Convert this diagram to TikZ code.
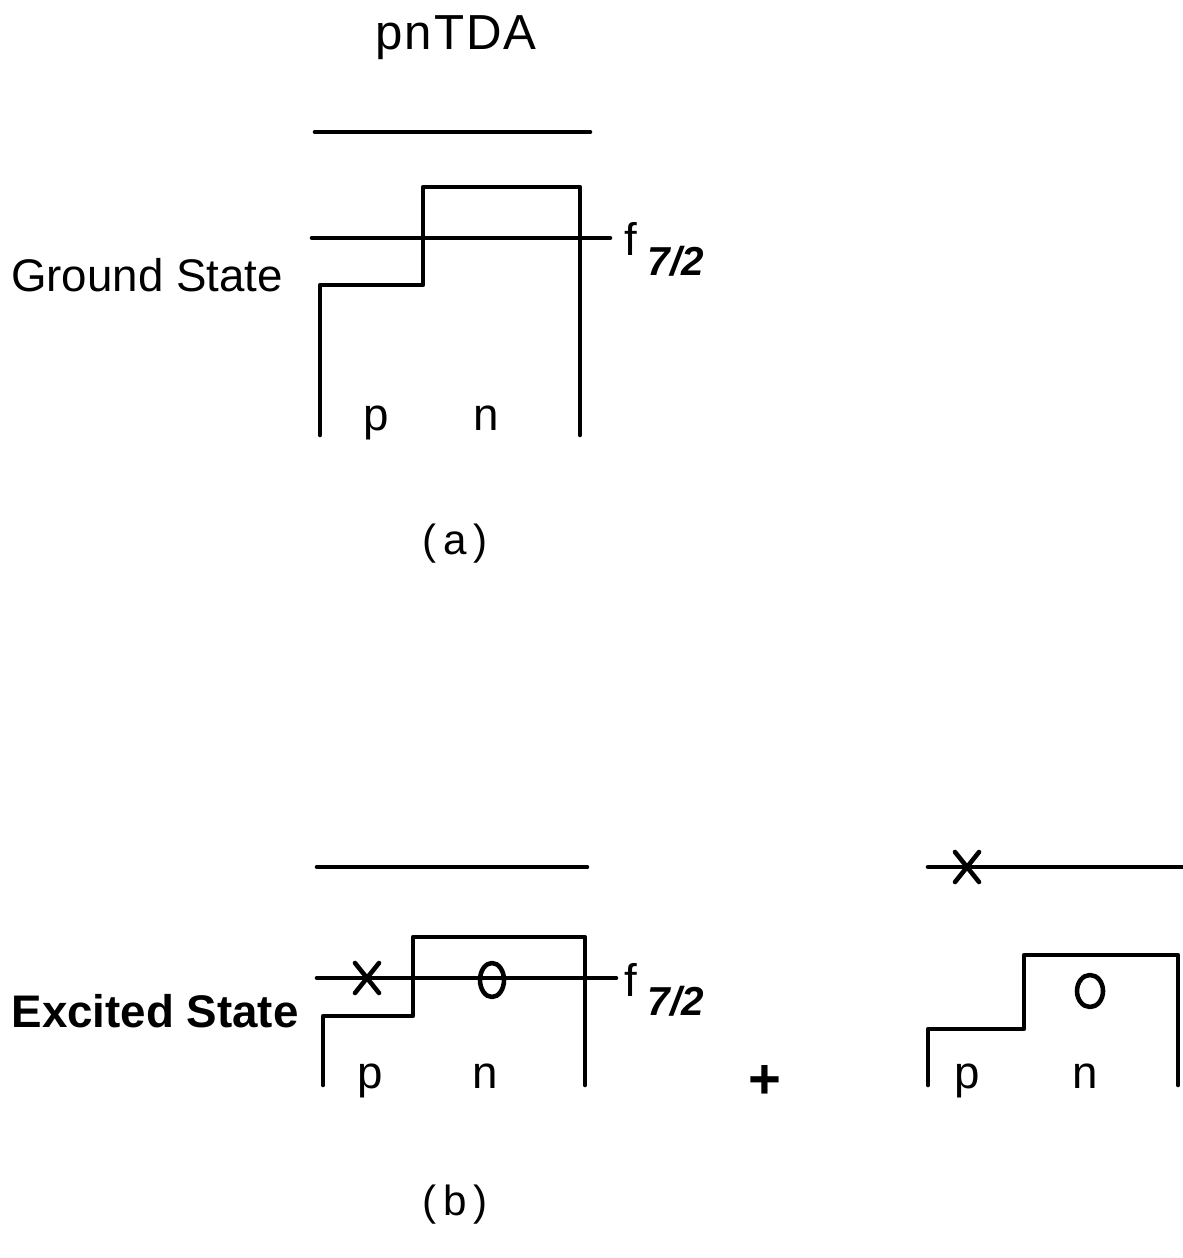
\documentclass[tikz,border=0pt]{standalone}
\usepackage{fontspec}
\setmainfont{Liberation Sans}
\tikzset{
  well/.style={line width=1.3pt, line cap=round, line join=round},
  lbl/.style={font=\fontsize{13}{15}\selectfont, inner sep=0pt},
  sub/.style={lbl, anchor=base west}
}
\newcommand{\fsev}{f\hspace{3pt}\raisebox{-5.5pt}{\fontsize{11.5}{13}\selectfont\bfseries\itshape 7/2}}
\begin{document}
\begin{tikzpicture}[x=0.1mm, y=-0.1mm]
    \useasboundingbox (0,0) rectangle (1182,1258);
    % title
    \node[lbl, anchor=base, font=\fontsize{14}{16}\selectfont\addfontfeatures{LetterSpace=4}] (title) at (456,50) {pnTDA};
    % (a) ground state
    \draw[well] (315,132) -- (590,132);
    \draw[well] (320,435) -- (320,285) -- (423,285) -- (423,187) -- (580,187) -- (580,435);
    \draw[well] (312,238) -- (610,238);
    \node[sub] (fa) at (624,256) {\fsev};
    \node[lbl, anchor=base] (ground) at (147,292) {Ground State};
    \node[lbl, anchor=base] (pa) at (376,430) {p};
    \node[lbl, anchor=base] (na) at (486,430) {n};
    \node[lbl, font=\fontsize{12}{14}\selectfont] (capa) at (455,544) {(\,a\,)};
    % (b) excited state, left term
    \draw[well] (317,867) -- (587,867);
    \draw[well] (323,1085) -- (323,1016) -- (413,1016) -- (413,937) -- (585,937) -- (585,1085);
    \draw[well] (317,978) -- (616,978);
    \draw[well] (355,963) -- (379,993) (379,963) -- (355,993);
    \draw[well] (492,980) ellipse (12 and 17);
    \node[sub] (fb) at (624,996) {\fsev};
    \node[lbl, anchor=base west, font=\fontsize{13}{15}\selectfont\bfseries] (excited) at (11,1027) {Excited State};
    \node[lbl, anchor=base] (pb) at (370,1088) {p};
    \node[lbl, anchor=base] (nb) at (485,1088) {n};
    \node[lbl, font=\fontsize{16}{18}\selectfont\bfseries] (plus) at (765,1082) {+};
    % (b) right term
    \draw[well] (928,867) -- (1182,867);
    \draw[well] (955,852) -- (979,882) (979,852) -- (955,882);
    \draw[well] (928,1085) -- (928,1029) -- (1024,1029) -- (1024,955) -- (1178,955) -- (1178,1085);
    \draw[well] (1090,991) ellipse (13 and 16);
    \node[lbl, anchor=base] (pc) at (967,1088) {p};
    \node[lbl, anchor=base] (nc) at (1085,1088) {n};
    \node[lbl, font=\fontsize{12}{14}\selectfont] (capb) at (455,1205) {(\,b\,)};
\end{tikzpicture}
\end{document}
